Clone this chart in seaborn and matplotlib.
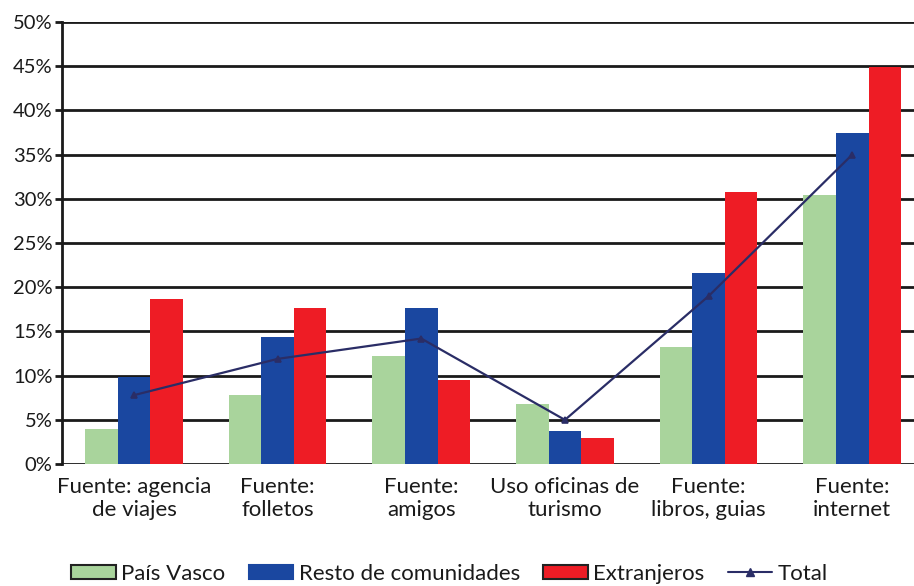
import pandas as pd
import matplotlib
matplotlib.use("Agg")
import matplotlib.pyplot as plt
import seaborn as sns
from matplotlib.patches import Patch
from matplotlib.lines import Line2D
from matplotlib.ticker import PercentFormatter

# data (percent)
categorias = ["Fuente: agencia\nde viajes", "Fuente:\nfolletos", "Fuente:\namigos",
              "Uso oficinas de\nturismo", "Fuente:\nlibros, guias", "Fuente:\ninternet"]
pais_vasco = [4.0, 7.8, 12.2, 6.8, 13.2, 30.4]
resto = [9.8, 14.4, 17.6, 3.8, 21.6, 37.4]
extranjeros = [18.7, 17.6, 9.5, 2.9, 30.8, 44.9]
total = [7.8, 11.9, 14.2, 5.0, 19.0, 35.0]

series = ["País Vasco", "Resto de comunidades", "Extranjeros"]
colores = ["#a9d49c", "#1a47a0", "#ee1c25"]
color_total = "#2a2d66"

df = pd.DataFrame({
    "categoria": categorias * 3,
    "serie": [s for s in series for _ in categorias],
    "valor": pais_vasco + resto + extranjeros,
})

sns.set_theme(style="white")
plt.rcParams["font.family"] = ["Lato", "DejaVu Sans"]

fig = plt.figure(figsize=(9.14, 5.86), dpi=100)
# axes runs past the right edge of the figure, as in the original
ax = fig.add_axes([0.068, 0.208, 0.943, 0.7545])

sns.barplot(data=df, x="categoria", y="valor", hue="serie", order=categorias,
            hue_order=series, palette=colores, width=0.68, gap=0,
            saturation=1, linewidth=0, legend=False, ax=ax)
sns.pointplot(x=categorias, y=total, order=categorias, color=color_total,
              markers="^", markersize=5, linewidth=1.6, ax=ax)

ax.set_ylim(0, 50)
ax.set_yticks(range(0, 51, 5))
ax.yaxis.set_major_formatter(PercentFormatter(decimals=0))
ax.set_axisbelow(True)
ax.grid(axis="y", color="#1a1a1a", linewidth=2)
ax.set_xlabel("")
ax.set_ylabel("")
ax.set_xlim(-0.5, 5.5)

for side in ["top", "right", "bottom"]:
    ax.spines[side].set_visible(False)
ax.spines["left"].set_color("#1a1a1a")
ax.spines["left"].set_linewidth(2)

ax.tick_params(axis="y", left=True, length=5, width=2, color="#1a1a1a",
               labelsize=14.5, pad=2, labelcolor="#1a1a1a")
ax.tick_params(axis="x", bottom=False, labelsize=16, pad=3, labelcolor="#1a1a1a")

handles = [
    Patch(facecolor=colores[0], edgecolor="#222222", linewidth=1.5),
    Patch(facecolor=colores[1], edgecolor=colores[1], linewidth=1.5),
    Patch(facecolor=colores[2], edgecolor="#222222", linewidth=1.5),
    Line2D([], [], color=color_total, marker="^", markersize=6, linewidth=1.5),
]
fig.legend(handles, series + ["Total"], loc="lower center", ncol=4,
           bbox_to_anchor=(0.492, -0.03), frameon=False, fontsize=16,
           handlelength=2.0, handleheight=0.6, handletextpad=0.25,
           columnspacing=1.05, labelcolor="#1a1a1a")

fig.savefig("out.png", dpi=100)
